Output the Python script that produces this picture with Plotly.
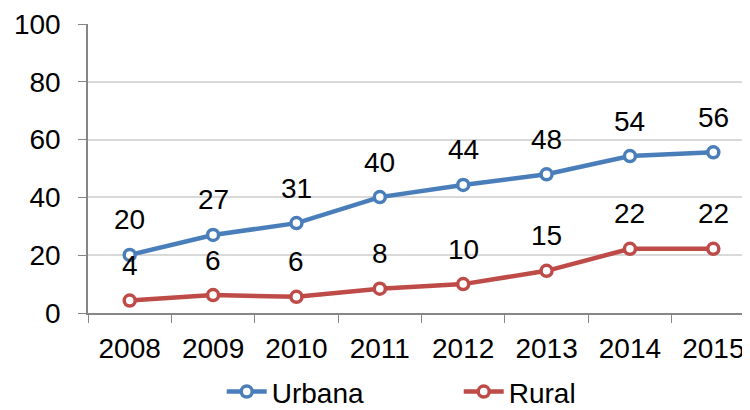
import plotly.graph_objects as go

years = ["2008", "2009", "2010", "2011", "2012", "2013", "2014", "2015"]
urbana = [20.1, 27.0, 31.1, 40.1, 44.3, 48.0, 54.3, 55.6]
rural = [4.3, 6.2, 5.6, 8.4, 10.0, 14.6, 22.2, 22.2]

BLUE = "#4A7EBB"
RED = "#BE4B48"
FONT = "Arial, Liberation Sans, sans-serif"
FS = 28

fig = go.Figure()
for name, vals, color in [("Urbana", urbana, BLUE), ("Rural", rural, RED)]:
    fig.add_trace(go.Scatter(
        x=years, y=vals, name=name, mode="lines+markers",
        line=dict(color=color, width=4.5),
        marker=dict(size=11, color="white", line=dict(color=color, width=3.5)),
        cliponaxis=False,
    ))
    # data labels sit well above each point, like the Excel original
    # (category index for x: "2008" as a string would be read as a number)
    for i, v in enumerate(vals):
        fig.add_annotation(x=i, y=v, xref="x", yref="y", text=f"{v:.0f}",
                           showarrow=False, yanchor="middle", yshift=35,
                           font=dict(size=FS, color="black", family=FONT))

# page body has an 8px margin, so the figure is shifted; compensate
fig.update_layout(
    width=742, height=402,
    margin=dict(l=80, r=0, t=16, b=97),
    plot_bgcolor="white", paper_bgcolor="white",
    font=dict(family=FONT, size=FS, color="black"),
    legend=dict(orientation="h", x=0.202, xanchor="left",
                yref="container", y=0.045, yanchor="middle",
                font=dict(size=FS), itemwidth=40, entrywidth=182),
    showlegend=True,
)
fig.update_xaxes(
    type="category", range=[-0.5, 7.44],
    showline=True, linecolor="#868686", linewidth=1.5,
    ticks="outside", tickson="boundaries", ticklen=8, tickcolor="#868686",
    ticklabelstandoff=10,
    showgrid=False, tickfont=dict(size=FS),
)
fig.update_yaxes(
    range=[0, 100], dtick=20,
    showline=True, linecolor="#868686", linewidth=1.5,
    ticks="outside", ticklen=8, tickcolor="#868686",
    ticklabelstandoff=12,
    showgrid=True, gridcolor="#D9D9D9", gridwidth=1.5,
    zeroline=False, tickfont=dict(size=FS),
)

fig.write_html("out.html")
